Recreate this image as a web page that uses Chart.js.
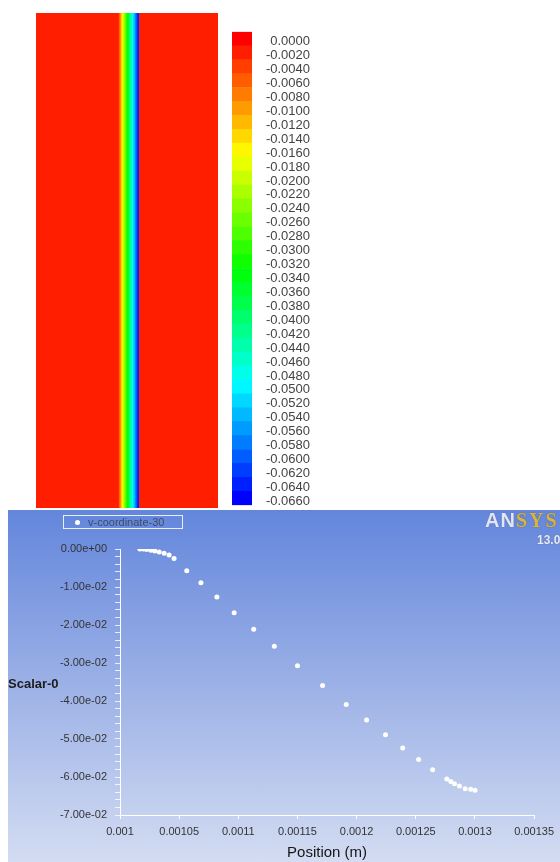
<!DOCTYPE html>
<html>
<head>
<meta charset="utf-8">
<script src="https://cdn.jsdelivr.net/npm/chart.js@4.4.1/dist/chart.umd.min.js"></script>
<style>
body{margin:0;width:560px;height:862px;overflow:hidden;background:#fff;position:relative;font-family:"Liberation Sans",Arial,sans-serif}
#contourBox{position:absolute;left:36px;top:13px;width:182px;height:495px}
#barBox{position:absolute;left:232px;top:24px;width:78px;height:489px}
#plotBox{position:absolute;left:8px;top:510px;width:552px;height:352px;overflow:hidden;background:linear-gradient(#6386dc,#9cb1e6 50%,#d3dcf2)}
#legend{position:absolute;left:55px;top:5px;width:118px;height:12px;border:1px solid rgba(255,255,255,.85);font-size:11px;line-height:12px;color:#3f4a64}
#legend span.dot{display:inline-block;width:5px;height:5px;border-radius:50%;background:#fff;margin:0 8px 1px 11px;vertical-align:middle}
#logo{position:absolute;left:477px;top:-1px;font:bold 20px "Liberation Sans",Arial,sans-serif;letter-spacing:1px;white-space:nowrap}
#logo .an{color:#e2e6f2;text-shadow:0 0 1px #4a5680}
#logo .sys{color:#d8b444;font-family:"Liberation Serif",serif;text-shadow:0 0 1px #6a5a20;letter-spacing:2px}
#ver{position:absolute;left:529px;top:23px;font:bold 12px "Liberation Sans",Arial,sans-serif;color:#e8ecf6;text-shadow:0 0 1px #4a5680}
#ytitle{position:absolute;left:8px;top:676px;font:bold 13px "Liberation Sans",Arial,sans-serif;color:#1c1c1c}
</style>
</head>
<body>
<div id="contourBox"><canvas id="contour"></canvas></div>
<div id="barBox"><canvas id="colorbar"></canvas></div>
<div id="plotBox">
  <canvas id="plot"></canvas>
  <div id="legend"></div>
  <div id="logo"><span class="an">AN</span><span class="sys">SYS</span></div>
  <div id="ver">13.0</div>
</div>
<div id="ytitle">Scalar-0</div>
<script>
// xy plot data
const seriesName = 'v-coordinate-30';
const posX = [0.0010168, 0.0010196, 0.0010225, 0.0010261, 0.0010294, 0.0010331, 0.0010373, 0.0010415, 0.0010457,
  0.0010564, 0.0010684, 0.0010819, 0.0010965, 0.0011130, 0.0011304, 0.0011500, 0.0011712, 0.0011912, 0.0012084,
  0.0012244, 0.0012389, 0.0012524, 0.0012642, 0.0012762, 0.0012796, 0.0012827, 0.0012869, 0.0012917, 0.0012964, 0.0013001];
const scalarY = [0, 0, -0.0001, -0.0003, -0.0005, -0.0008, -0.0011, -0.0016, -0.0025,
  -0.0057, -0.0089, -0.0126, -0.0168, -0.0211, -0.0256, -0.0307, -0.0359, -0.0409, -0.0450,
  -0.0489, -0.0524, -0.0554, -0.0581, -0.0605, -0.0612, -0.0618, -0.0624, -0.0631, -0.0632, -0.0635];

// colour legend levels
const levels = ['0.0000','-0.0020','-0.0040','-0.0060','-0.0080','-0.0100','-0.0120','-0.0140','-0.0160','-0.0180',
  '-0.0200','-0.0220','-0.0240','-0.0260','-0.0280','-0.0300','-0.0320','-0.0340','-0.0360','-0.0380',
  '-0.0400','-0.0420','-0.0440','-0.0460','-0.0480','-0.0500','-0.0520','-0.0540','-0.0560','-0.0580',
  '-0.0600','-0.0620','-0.0640','-0.0660'];

// contour: field value outside the stripe, and the domain width (m)
const farField = 0;
const contourRange = [0, 0.00231];

function bandColor(i){ return 'hsl(' + (240 * i / (levels.length - 1)) + ',100%,50%)'; }
function valueColor(v){
  let i = Math.floor(-v / 0.002) + 1;
  i = Math.max(0, Math.min(levels.length - 1, i));
  return bandColor(i);
}

// contour strip, one floating bar per segment, the red field underneath
const segs = [];
for (let i = 0; i < posX.length - 1; i++) {
  segs.push({data: [[posX[i], posX[i + 1] + 0.000002]], backgroundColor: valueColor((scalarY[i] + scalarY[i + 1]) / 2)});
}
segs.push({data: [[contourRange[0], contourRange[1]]], backgroundColor: valueColor(farField)});
new Chart(document.getElementById('contour'), {
  type: 'bar',
  data: {labels: [''], datasets: segs.map(s => Object.assign(s, {borderWidth: 0, barPercentage: 1, categoryPercentage: 1, grouped: false}))},
  options: {indexAxis: 'y', responsive: true, maintainAspectRatio: false, animation: false,
    layout: {padding: 0},
    plugins: {legend: {display: false}, tooltip: {enabled: false}},
    scales: {x: {type: 'linear', min: contourRange[0], max: contourRange[1], display: false}, y: {display: false}}}
});

// colour bar
new Chart(document.getElementById('colorbar'), {
  type: 'bar',
  data: {labels: levels, datasets: [{data: levels.map(() => 1), backgroundColor: levels.map((l, i) => bandColor(i)), borderWidth: 0, barPercentage: 1, categoryPercentage: 1}]},
  options: {indexAxis: 'y', responsive: true, maintainAspectRatio: false, animation: false,
    plugins: {legend: {display: false}, tooltip: {enabled: false}},
    scales: {
      x: {min: 0, max: 1, display: false},
      y: {position: 'right', grid: {display: false}, border: {display: false},
        ticks: {autoSkip: false, crossAlign: 'far', padding: 0, labelOffset: 3, color: '#444', font: {size: 13, family: '"Liberation Sans", Arial'}},
        afterFit(s){ s.width = 58; }}
    }}
});

// y labels like 0.00e+00
function sci(v){
  if (Math.abs(v) < 1e-12) return '0.00e+00';
  const e = Math.floor(Math.log10(Math.abs(v)) + 1e-9);
  const m = (v / Math.pow(10, e)).toFixed(2);
  return m + 'e' + (e < 0 ? '-' : '+') + String(Math.abs(e)).padStart(2, '0');
}

document.getElementById('legend').innerHTML = '<span class="dot"></span>' + seriesName;

new Chart(document.getElementById('plot'), {
  type: 'scatter',
  data: {datasets: [{label: seriesName, data: posX.map((x, i) => ({x: x, y: scalarY[i]})),
    pointRadius: 2.5, pointBackgroundColor: '#fff', pointBorderWidth: 0, showLine: false}]},
  options: {responsive: true, maintainAspectRatio: false, animation: false,
    layout: {padding: {top: 39, right: 24, left: 0, bottom: 0}},
    plugins: {legend: {display: false}, tooltip: {enabled: false}},
    scales: {
      x: {type: 'linear', min: 0.001, max: 0.00135,
        ticks: {stepSize: 0.00005, maxRotation: 0, padding: 6, color: '#333', font: {size: 11, family: '"Liberation Sans", Arial'},
          callback: v => String(+v.toFixed(6))},
        grid: {drawOnChartArea: false, color: 'rgba(255,255,255,0.9)', tickLength: 4},
        border: {color: '#fff', width: 1},
        title: {display: true, text: 'Position (m)', color: '#151515', padding: {top: 0, bottom: 0}, font: {size: 15, family: '"Liberation Sans", Arial'}},
        afterFit(s){ s.height = 47; }},
      y: {min: -0.07, max: 0,
        ticks: {stepSize: 0.002, autoSkip: false, padding: 8, color: '#333', font: {size: 11, family: '"Liberation Sans", Arial'},
          callback: v => Math.abs(v / 0.01 - Math.round(v / 0.01)) < 1e-6 ? sci(Math.round(v / 0.01) * 0.01) : ''},
        grid: {drawOnChartArea: false, color: 'rgba(255,255,255,0.8)', tickLength: 5},
        border: {color: '#fff', width: 1},
        afterFit(s){ s.width = 112; }}
    }}
});
</script>
</body>
</html>
